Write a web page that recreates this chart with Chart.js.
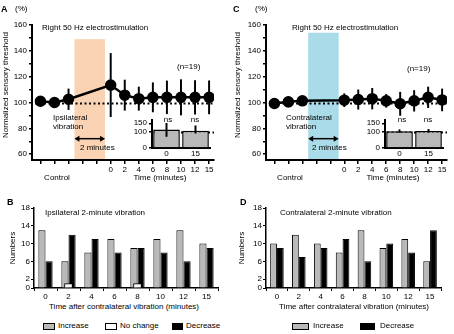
<!DOCTYPE html>
<html>
<head>
<meta charset="utf-8">
<script src="https://cdn.jsdelivr.net/npm/chart.js@4.4.1/dist/chart.umd.min.js"></script>
<style>
  html, body { margin: 0; padding: 0; background: #fff; }
  #fig { position: relative; width: 454px; height: 334px; overflow: hidden;
         font-family: 'Liberation Sans', Arial, sans-serif; font-size: 8px; color: #000; }
  #fig canvas { position: absolute; }
  .t { position: absolute; white-space: nowrap; line-height: 8px; }
  .c { transform: translateX(-50%); }
  .r { transform: translate(-50%, -50%) rotate(-90deg); }
  .b { font-weight: bold; font-size: 9px; }
  .sw { position: absolute; border: 1px solid #000; box-sizing: border-box; }
</style>
</head>
<body>
<div id="fig">
  <canvas id="cA" style="left:0;top:0" width="227" height="185"></canvas>
  <canvas id="cC" style="left:234px;top:0" width="220" height="185"></canvas>
  <canvas id="iA" style="left:125px;top:112px" width="90" height="48"></canvas>
  <canvas id="iC" style="left:358px;top:112px" width="96" height="48"></canvas>
  <canvas id="cB" style="left:0;top:195px" width="227" height="105"></canvas>
  <canvas id="cD" style="left:227px;top:195px" width="227" height="105"></canvas>
</div>
<script>
/* ---- data ---- */
// time course panels (A, C): 3 control readings, then 0..15 min after vibration
const ctrlCount = 3;
const gapSteps = 2;               // slots taken by the 2-minute vibration
const timeLabels = ['0', '2', '4', '6', '8', '10', '12', '15'];
const meanA = [101, 100, 102.5, 113.5, 105.7, 103, 104, 104, 104, 104, 104];
const sdA   = [3, 2, 8, 24.5, 11.7, 9, 11.3, 12.7, 13.7, 13, 12.8];
const meanC = [99.2, 100.5, 101.3, 101.8, 102.3, 103, 101.3, 99, 101.3, 104, 102];
const sdC   = [3, 4, 3, 5, 7.5, 8, 5, 9, 8, 8, 8.5];
const mainTicks = [60, 70, 80, 90, 100, 110, 120, 130, 140, 150, 160];
const mainTickLabels = [60, 80, 100, 120, 140, 160];

// insets (0 and 15 min)
const insetLabels = ['0', '15'];
const insetA = [113, 104];
const insetAErr = [[70, 150], [90, 135]];
const insetC = [102, 103];
const insetCErr = [[95, 111], [96, 113]];
const insetTicks = [0, 100, 150];

// count panels (B, D)
const groupLabels = ['0', '2', '4', '6', '8', '10', '12', '15'];
const incB  = [13, 6, 8, 11, 9, 11, 13, 10];
const noChB = [null, 1, null, null, 1, null, null, null];
const decB  = [6, 12, 11, 8, 9, 8, 6, 9];
const incD  = [10, 12, 10, 8, 13, 9, 11, 6];
const decD  = [9, 7, 9, 11, 6, 10, 8, 13];
const countTicks = [0, 2, 6, 10, 14, 18];

const GRAY = '#b9b9b9';

Chart.defaults.font.family = "'Liberation Sans', Arial, sans-serif";
Chart.defaults.font.size = 8;
Chart.defaults.color = '#000';

const xPos = i => (i < ctrlCount ? i : i + gapSteps);

// shading, dotted 100% line and double arrow
const decor = {
  id: 'decor',
  beforeDatasetsDraw(chart, args, o) {
    const { ctx, chartArea: a, scales: { x, y } } = chart;
    ctx.save();
    if (o.shade) {
      const x0 = x.getPixelForValue(o.shade.from), x1 = x.getPixelForValue(o.shade.to);
      const yt = y.getPixelForValue(o.shade.top);
      ctx.fillStyle = o.shade.color;
      ctx.fillRect(x0, yt, x1 - x0, a.bottom - 1 - yt);
    }
    if (o.arrow) {
      const x0 = x.getPixelForValue(o.arrow.from), x1 = x.getPixelForValue(o.arrow.to);
      const yy = y.getPixelForValue(o.arrow.y);
      ctx.strokeStyle = '#000'; ctx.fillStyle = '#000'; ctx.lineWidth = 1.5;
      ctx.beginPath(); ctx.moveTo(x0 + 3, yy); ctx.lineTo(x1 - 3, yy); ctx.stroke();
      ctx.beginPath(); ctx.moveTo(x0, yy); ctx.lineTo(x0 + 5, yy - 3); ctx.lineTo(x0 + 5, yy + 3); ctx.fill();
      ctx.beginPath(); ctx.moveTo(x1, yy); ctx.lineTo(x1 - 5, yy - 3); ctx.lineTo(x1 - 5, yy + 3); ctx.fill();
    }
    if (o.refY != null) {
      const yy = Math.round(y.getPixelForValue(o.refY)) + 0.5;
      ctx.strokeStyle = '#000'; ctx.lineWidth = 1.8; ctx.setLineDash([2, 2.5]);
      ctx.beginPath();
      ctx.moveTo(a.left + (o.refStart || 0), yy);
      ctx.lineTo(a.right + (o.refExtra || 0), yy);
      ctx.stroke();
    }
    ctx.restore();
  }
};

const axisBorder = { display: true, color: '#000', width: 2 };

function mainChart(id, mean, sd, padRight, shade) {
  const pts = mean.map((m, i) => ({ x: xPos(i), y: m }));
  const errs = mean.map((m, i) => ({ x: xPos(i), y: [m - sd[i], m + sd[i]] }));
  const last = xPos(mean.length - 1);
  const tickVals = [];
  for (let v = 0; v <= last; v++) tickVals.push({ value: v });
  return new Chart(document.getElementById(id), {
    type: 'line',
    data: {
      datasets: [
        { type: 'line', data: pts, borderColor: '#000', borderWidth: 2.5,
          pointRadius: 4.5, pointBackgroundColor: '#000', pointBorderColor: '#000', order: 0 },
        { type: 'bar', data: errs, backgroundColor: '#000', barThickness: 1.3, grouped: false, order: 1 }
      ]
    },
    options: {
      responsive: false, animation: false, events: [],
      layout: { padding: { top: 25, right: padRight, left: 0, bottom: 0 } },
      plugins: {
        legend: { display: false }, tooltip: { enabled: false },
        decor: { shade, refY: 100, refStart: 3, arrow: { from: shade.from, to: shade.to, y: 72 } }
      },
      scales: {
        x: {
          type: 'linear', min: -0.6, max: last + 0.35, offset: false,
          afterBuildTicks: s => { s.ticks = tickVals.slice(); },
          afterFit: s => { s.height = 25; },
          grid: { offset: false, drawOnChartArea: false, tickLength: 4, color: '#000', lineWidth: 1.5 },
          border: axisBorder,
          ticks: {
            autoSkip: false, maxRotation: 0, padding: 1,
            callback: v => (v >= ctrlCount + gapSteps ? timeLabels[v - ctrlCount - gapSteps] : '')
          }
        },
        y: {
          min: 55.5, max: 160,
          afterBuildTicks: s => { s.ticks = mainTicks.map(v => ({ value: v })); },
          afterFit: s => { s.width = 32; },
          grid: { drawOnChartArea: false, tickLength: 3, color: '#000', lineWidth: 1.5 },
          border: axisBorder,
          ticks: { padding: 2, callback: v => (mainTickLabels.includes(v) ? String(v) : '') }
        }
      }
    },
    plugins: [decor]
  });
}

function insetChart(id, vals, errs, padRight) {
  return new Chart(document.getElementById(id), {
    type: 'bar',
    data: {
      labels: insetLabels,
      datasets: [
        { data: vals, backgroundColor: GRAY, borderColor: '#000', borderWidth: 1.5,
          categoryPercentage: 1, barPercentage: 0.92, order: 1 },
        { data: errs, backgroundColor: '#000', barThickness: 1.3, grouped: false, order: 0 }
      ]
    },
    options: {
      responsive: false, animation: false, events: [],
      layout: { padding: { top: 8, right: padRight, left: 0, bottom: 0 } },
      plugins: { legend: { display: false }, tooltip: { enabled: false },
                 decor: { refY: 100, refStart: 2, refExtra: 4 } },
      scales: {
        x: {
          afterFit: s => { s.height = 12; },
          grid: { display: false, drawTicks: false }, border: axisBorder,
          ticks: { padding: 1 }
        },
        y: {
          min: 0, max: 170,
          afterBuildTicks: s => { s.ticks = insetTicks.map(v => ({ value: v })); },
          afterFit: s => { s.width = 27; },
          grid: { drawOnChartArea: false, tickLength: 3, color: '#000', lineWidth: 1.5 },
          border: axisBorder,
          ticks: { padding: 2 }
        }
      }
    },
    plugins: [decor]
  });
}

function countChart(id, inc, noCh, dec, yWidth, padRight) {
  const datasets = [
    { data: inc, backgroundColor: GRAY, borderColor: '#000', borderWidth: 1,
      categoryPercentage: 0.62, barPercentage: 1, order: 1 },
    { data: dec, backgroundColor: '#000', borderColor: '#000', borderWidth: 1,
      categoryPercentage: 0.62, barPercentage: 1, order: 1 }
  ];
  if (noCh) {
    datasets.push({ data: noCh, backgroundColor: '#fff', borderColor: '#000', borderWidth: 1,
                    barThickness: 8, grouped: false, order: 0 });
  }
  return new Chart(document.getElementById(id), {
    type: 'bar',
    data: { labels: groupLabels, datasets },
    options: {
      responsive: false, animation: false, events: [],
      layout: { padding: { top: 13, right: padRight, left: 0, bottom: 0 } },
      plugins: { legend: { display: false }, tooltip: { enabled: false } },
      scales: {
        x: {
          afterFit: s => { s.height = 12; },
          grid: { drawOnChartArea: false, tickLength: 3, color: '#000', lineWidth: 1 },
          border: { display: true, color: '#000', width: 1.5 },
          ticks: { padding: 1, autoSkip: false, maxRotation: 0 }
        },
        y: {
          min: 0, max: 18,
          afterBuildTicks: s => { s.ticks = countTicks.map(v => ({ value: v })); },
          afterFit: s => { s.width = yWidth; },
          grid: { drawOnChartArea: false, tickLength: 3, color: '#000', lineWidth: 1 },
          border: { display: true, color: '#000', width: 1.5 },
          ticks: { padding: 1 }
        }
      }
    }
  });
}

mainChart('cA', meanA, sdA, 13, { from: 2.42, to: 4.6, top: 149, color: '#f9d3b3' });
mainChart('cC', meanC, sdC, 6, { from: 2.42, to: 4.6, top: 154, color: '#a9dbe8' });
insetChart('iA', insetA, insetAErr, 5);
insetChart('iC', insetC, insetCErr, 11);
countChart('cB', incB, noChB, decB, 34, 9);
countChart('cD', incD, null, decD, 39, 13);

/* ---- text annotations ---- */
const fig = document.getElementById('fig');
function txt(s, x, y, cls) {
  const d = document.createElement('div');
  d.className = 't' + (cls ? ' ' + cls : '');
  d.textContent = s;
  d.style.left = x + 'px';
  d.style.top = (cls && cls.includes('r') ? y : y - 4) + 'px';
  fig.appendChild(d);
}
function swatch(x, y, w, fill) {
  const d = document.createElement('div');
  d.className = 'sw';
  Object.assign(d.style, { left: x + 'px', top: (y - 3.5) + 'px', width: w + 'px', height: '7px', background: fill });
  fig.appendChild(d);
}

// A
txt('A', 1, 9, 'b');
txt('(%)', 15, 9);
txt('Normalized sensory threshold', 6, 85, 'r');
txt('Right 50 Hz electrostimulation', 42, 28);
txt('(n=19)', 177, 67);
txt('Ipsilateral', 53, 118);
txt('vibration', 53, 127);
txt('2 minutes', 80, 148);
txt('ns', 168, 120, 'c');
txt('ns', 195, 120, 'c');
txt('Control', 57, 178, 'c');
txt('Time (minutes)', 160, 178, 'c');

// C
txt('C', 233, 9, 'b');
txt('(%)', 255, 9);
txt('Normalized sensory threshold', 238, 85, 'r');
txt('Right 50 Hz electrostimulation', 292, 28);
txt('(n=19)', 407, 69);
txt('Contralateral', 286, 118);
txt('vibration', 286, 127);
txt('2 minutes', 312, 148);
txt('ns', 402, 120, 'c');
txt('ns', 428, 120, 'c');
txt('Control', 290, 178, 'c');
txt('Time (minutes)', 393, 178, 'c');

// B
txt('B', 7, 202, 'b');
txt('Numbers', 13, 248, 'r');
txt('Ipsilateral 2-minute vibration', 45, 213);
txt('Time after contralateral vibration (minutes)', 124, 307, 'c');
swatch(43, 326, 12, GRAY);  txt('Increase', 58, 326);
swatch(105, 326, 12, '#fff'); txt('No change', 120, 326);
swatch(172, 326, 11, '#000'); txt('Decrease', 186, 326);

// D
txt('D', 240, 202, 'b');
txt('Numbers', 242, 248, 'r');
txt('Contralateral 2-minute vibration', 280, 213);
txt('Time after contralateral vibration (minutes)', 354, 307, 'c');
swatch(292, 326, 17, GRAY); txt('Increase', 313, 326);
swatch(360, 326, 15, '#000'); txt('Decrease', 380, 326);
</script>
</body>
</html>
